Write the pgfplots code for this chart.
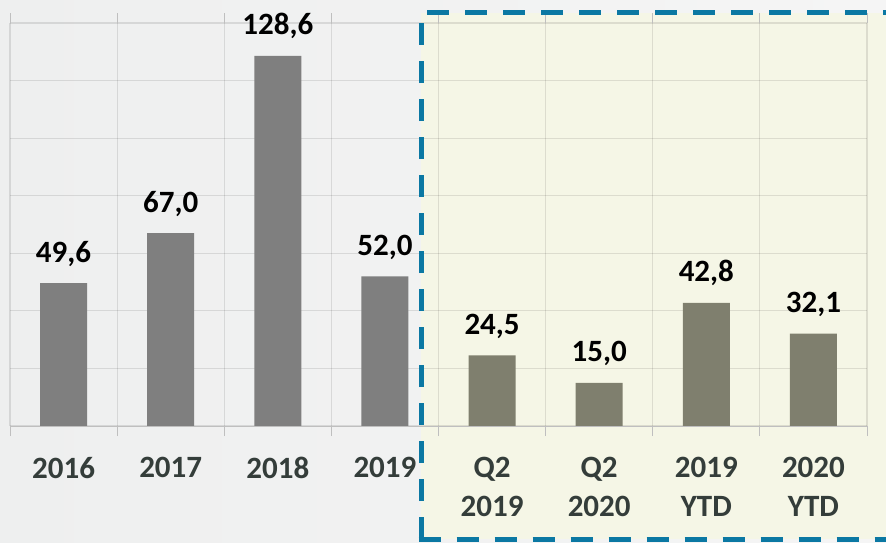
\documentclass[border=0pt]{standalone}
\usepackage{fontspec}
\setmainfont{Carlito}
\usepackage{pgfplots}
\pgfplotsset{compat=1.18}
\definecolor{bgL}{HTML}{EEEFEF}
\definecolor{bgR}{HTML}{F5F5F5}
\definecolor{boxfill}{HTML}{F5F6E6}
\definecolor{boxline}{HTML}{0B78A3}
\definecolor{barL}{HTML}{7F7F7F}
\definecolor{barR}{HTML}{7F7F6E}
\definecolor{axisgray}{HTML}{BFBFBF}
\definecolor{ticktext}{HTML}{343D3A}
\begin{document}
\begin{tikzpicture}
\useasboundingbox (-10pt,-116pt) rectangle (876pt,426pt);
\clip (-10pt,-116pt) rectangle (876pt,426pt);
\shade[left color=bgL, right color=bgR] (-10pt,-116pt) rectangle (876pt,426pt);
\fill[boxfill] (411pt,-113pt) rectangle (890pt,413pt);
\begin{axis}[
  at={(0pt,0pt)}, anchor=south west,
  scale only axis, width=857pt, height=403pt,
  xmin=-0.5, xmax=7.5, ymin=0, ymax=140,
  clip=false,
  axis line style={draw=none},
  xtick={0,...,7},
  xticklabels={2016,2017,2018,2019,{Q2\\2019},{Q2\\2020},{2019\\YTD},{2020\\YTD}},
  minor xtick={-0.5,0.5,...,7.5},
  xminorgrids=true, xmajorgrids=false,
  ytick={0,20,...,140}, yticklabels={},
  ymajorgrids=true,
  major tick length=0pt, minor tick length=10pt, tick align=outside,
  tick style={color=axisgray, line width=1pt},
  major grid style={black, opacity=0.1, line width=1.2pt},
  minor grid style={black, opacity=0.1, line width=1.2pt},
  xticklabel style={anchor=north, inner sep=0pt, yshift=-31pt, align=center,
    font=\fontsize{31}{39}\selectfont\bfseries, text=ticktext},
  nodes near coords={\pgfmathprintnumber[fixed,fixed zerofill,precision=1,use comma,assume math mode=true]{\pgfplotspointmeta}},
  every node near coord/.append style={anchor=base, yshift=21pt, inner sep=0pt,
    font=\fontsize{31}{39}\selectfont\bfseries, text=black},
]
\addplot[ybar, bar width=47pt, bar shift=0pt, fill=barL, draw=none]
  coordinates {(0,49.6) (1,67.0) (2,128.6) (3,52.0)};
\addplot[ybar, bar width=47pt, bar shift=0pt, fill=barR, draw=none]
  coordinates {(4,24.5) (5,15.0) (6,42.8) (7,32.1)};
\draw[axisgray, line width=1pt] (axis cs:-0.5,0) -- (axis cs:7.5,0);
\end{axis}
\draw[boxline, line width=5pt, dash pattern=on 22pt off 16pt] (411pt,-113pt) -- (411pt,413pt) -- (890pt,413pt);
\draw[boxline, line width=5pt, dash pattern=on 22pt off 16pt] (408.5pt,-113pt) -- (890pt,-113pt);
\end{tikzpicture}
\end{document}
